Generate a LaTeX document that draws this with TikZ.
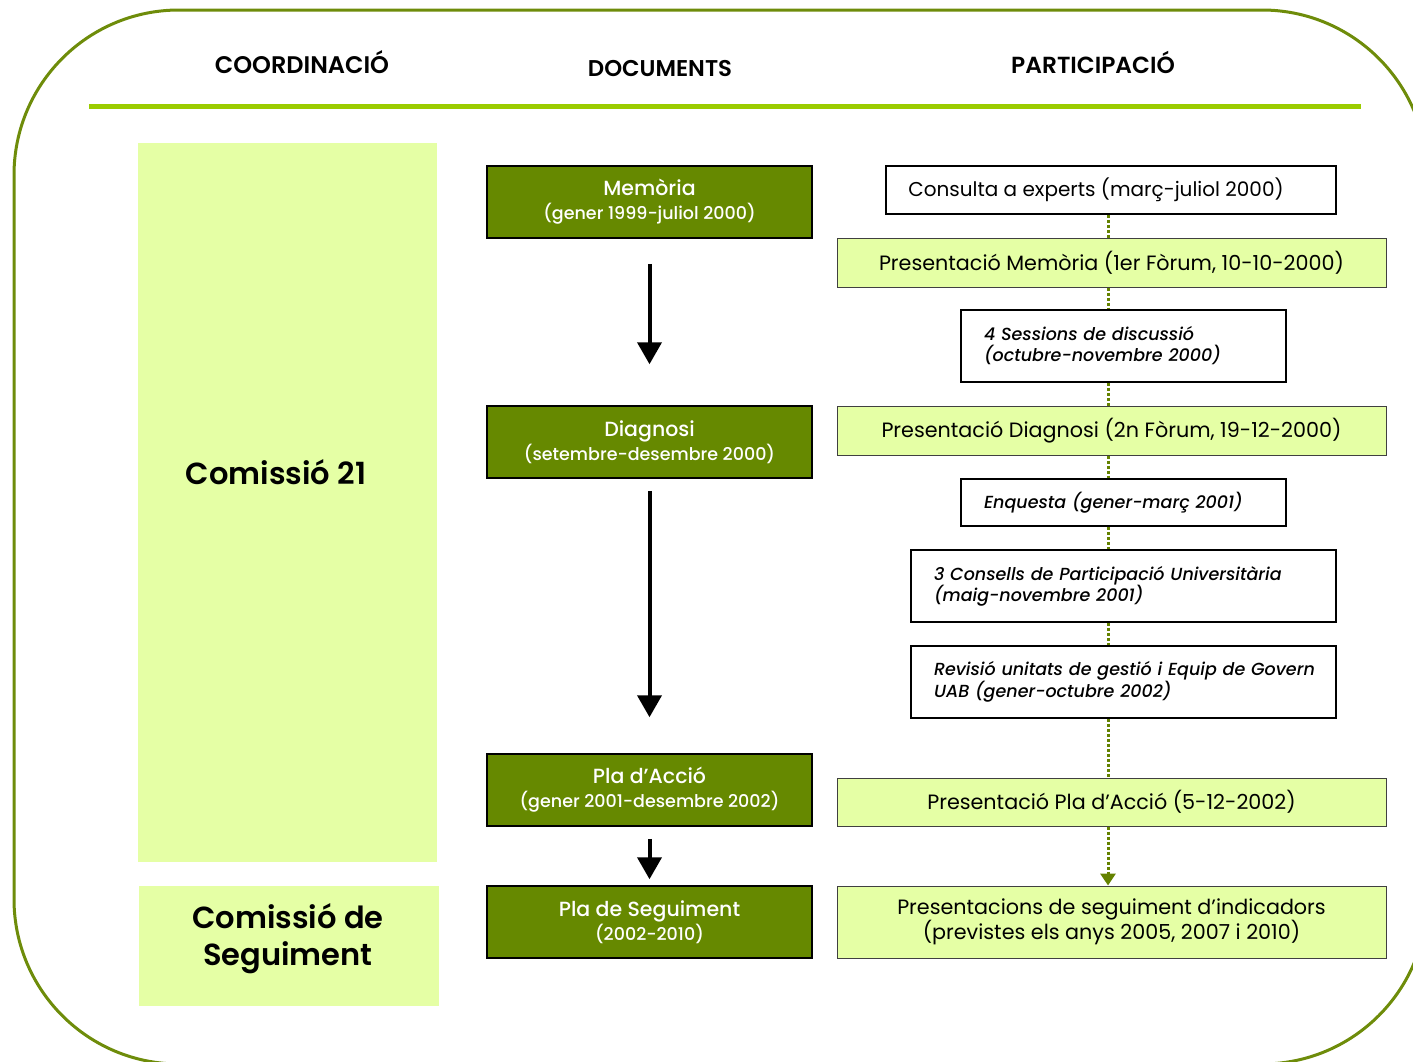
\documentclass[tikz,border=0pt]{standalone}
\usepackage{fontspec}
\setmainfont{Poppins}
\newfontfamily\medfont{Poppins Medium}[ItalicFont={Poppins Medium Italic}]
\newfontfamily\semifont{Poppins SemiBold}
\usetikzlibrary{arrows.meta}
\definecolor{framegreen}{RGB}{110,140,10}
\definecolor{rulegreen}{RGB}{155,204,0}
\definecolor{palegreen}{RGB}{229,255,165}
\definecolor{darkgreen}{RGB}{102,137,0}
\definecolor{dotgreen}{RGB}{100,130,0}
\tikzset{
  docbox/.style={draw=black, line width=1.5pt, fill=darkgreen, text=white, inner sep=0pt, align=center,
    minimum width=325pt, minimum height=72pt, font=\medfont\fontsize{20.5}{24}\selectfont},
  pgreen/.style={draw=black!75, line width=1pt, fill=palegreen, inner sep=0pt, align=center,
    minimum width=549pt, font=\fontsize{20.7}{25}\selectfont},
  wbox/.style={draw=black, line width=1.5pt, fill=white, inner sep=0pt},
  itbox/.style={wbox, align=left, inner xsep=23pt, minimum height=72pt, font=\medfont\fontsize{17.5}{21}\selectfont\itshape},
  comm/.style={fill=palegreen, inner sep=0pt},
  head/.style={font=\semifont\fontsize{23.3}{26}\selectfont},
  bigarrow/.style={line width=4pt, -{Triangle[width=24pt,length=22pt]}},
  dotline/.style={dotgreen, line width=3pt, dash pattern=on 3pt off 2pt},
}
\newcommand{\subl}[1]{{\fontsize{17.5}{20}\selectfont #1}}
\begin{document}
\begin{tikzpicture}[x=1pt,y=-1pt]
\useasboundingbox (0,0) rectangle (1413,1061);
\begin{scope}
\clip (0,0) rectangle (1413,1061);
\draw[framegreen, line width=3pt, rounded corners=165pt] (14,10) rectangle (1427,1064);
\end{scope}
% headers
\node[head, font=\semifont\fontsize{24}{26}\selectfont] (hcoord) at (302,62) {COORDINACIÓ};
\node[head, font=\semifont\fontsize{22.8}{26}\selectfont] (hdocs) at (660,69) {DOCUMENTS};
\node[head] (hpart) at (1093,62) {PARTICIPACIÓ};
\coordinate (rl) at (89,106);
\coordinate (rr) at (1361,106);
\draw[rulegreen, line width=5pt] (rl) -- (rr);
% coordination column
\node[comm, minimum width=299pt, minimum height=719pt] (c21) at (287.5,502.5) {};
\node[font=\semifont\fontsize{30.5}{36}\selectfont] (c21t) at (276,472) {Comissió 21};
\node[comm, minimum width=300pt, minimum height=120pt] (cseg) at (288.5,946) {};
\node[font=\semifont\fontsize{30.5}{37}\selectfont, align=center] (csegt) at (288,939) {Comissió de\\Seguiment};
% documents column
\node[docbox] (mem) at (649.5,202) {Memòria\\\subl{(gener 1999-juliol 2000)}};
\node[docbox] (diag) at (649.5,442) {Diagnosi\\\subl{(setembre-desembre 2000)}};
\node[docbox] (pla) at (649.5,790) {Pla d’Acció\\\subl{(gener 2001-desembre 2002)}};
\node[docbox] (seg) at (649.5,922) {Pla de Seguiment\\\subl{(2002-2010)}};
\draw[bigarrow, shorten <=25pt, shorten >=41pt] (mem) -- (diag);
\draw[bigarrow, shorten <=12pt, shorten >=36pt] (diag) -- (pla);
\draw[bigarrow, shorten <=12pt, shorten >=6pt] (pla) -- (seg);
% participation column
\node[wbox, minimum width=450pt, minimum height=48pt, font=\fontsize{20}{24}\selectfont] (cons) at (1111,190) {Consulta a experts (març-juliol 2000)\hspace*{30pt}};
\node[pgreen, minimum height=49pt] (pmem) at (1111.5,262.5) {Presentació Memòria (1er Fòrum, 10-10-2000)};
\node[itbox, text width=279pt] (ses) at (1123.5,346) {4 Sessions de discussió\\(octubre-novembre 2000)};
\node[pgreen, minimum height=49pt] (pdiag) at (1111.5,430.5) {Presentació Diagnosi (2n Fòrum, 19-12-2000)};
\node[itbox, text width=279pt, minimum height=47pt] (enq) at (1123.5,502.5) {Enquesta (gener-març 2001)};
\node[itbox, text width=379pt] (conc) at (1123.5,586) {\mbox{3 Consells de Participació Universitària}\\(maig-novembre 2001)};
\node[itbox, text width=379pt] (rev) at (1123.5,682) {\mbox{Revisió unitats de gestió i Equip de Govern}\\UAB (gener-octubre 2002)};
\node[pgreen, minimum height=48pt] (ppla) at (1111.5,802) {Presentació Pla d’Acció (5-12-2002)};
\node[pgreen, minimum height=72pt] (pseg) at (1111.5,922) {Presentacions de seguiment d’indicadors\\(previstes els anys 2005, 2007 i 2010)};
% dotted connectors
\coordinate (dx) at (1108,0);
\draw[dotline] (cons.south -| dx) -- (pmem.north -| dx);
\draw[dotline] (pmem.south -| dx) -- (ses.north -| dx);
\draw[dotline] (ses.south -| dx) -- (pdiag.north -| dx);
\draw[dotline] (pdiag.south -| dx) -- (enq.north -| dx);
\draw[dotline] (enq.south -| dx) -- (conc.north -| dx);
\draw[dotline] (conc.south -| dx) -- (rev.north -| dx);
\draw[dotline] (rev.south -| dx) -- (ppla.north -| dx);
\draw[dotline, -{Triangle[width=15pt,length=12pt]}] (ppla.south -| dx) -- (pseg.north -| dx);
\end{tikzpicture}
\end{document}
